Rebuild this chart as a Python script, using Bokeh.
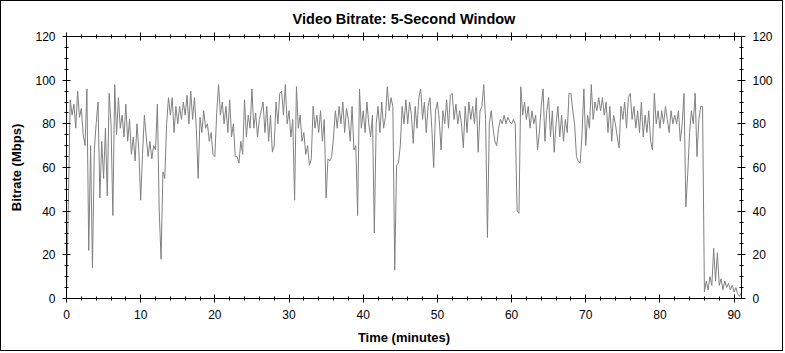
from bokeh.plotting import figure
from bokeh.models import Range1d, LinearAxis, FixedTicker
from bokeh.embed import file_html
from bokeh.resources import INLINE

title_text = "Video Bitrate: 5-Second Window"
x_label = "Time (minutes)"
y_label = "Bitrate (Mbps)"

sample_step_min = 0.25  # one reading every quarter minute

# bitrate readings (Mbps), four per minute, minute 0 .. 90, plus final point at 91
bitrate_mbps = [
    2, 43, 91, 84,    89, 78, 95, 83,    87, 75, 70, 96,    22, 70, 14, 68,
    80, 90, 46, 72,   55, 78, 47, 94,    80, 38, 98, 75,    92, 78, 84, 74,
    89, 72, 82, 66,   74, 63, 80, 68,    45, 66, 84, 74,    65, 72, 64, 70,
    68, 89, 40, 18,   58, 55, 80, 92,    84, 92, 76, 88,    80, 88, 82, 90,
    84, 93, 80, 95,   82, 92, 78, 55,    83, 76, 86, 78,    80, 72, 76, 66,
    65, 85, 98, 84,   90, 80, 88, 76,    91, 74, 80, 65,    65, 62, 72, 66,
    91, 74, 84, 78,   96, 78, 85, 74,    82, 86, 90, 76,    88, 72, 84, 67,
    70, 90, 80, 94,   95, 84, 98, 80,    86, 74, 82, 45,    97, 78, 84, 72,
    76, 66, 70, 61,   64, 88, 78, 84,    76, 86, 72, 82,    46, 64, 63, 65,
    74, 86, 78, 88,   80, 90, 76, 87,    82, 72, 88, 68,    70, 38, 96, 78,
    86, 76, 90, 80,   74, 84, 30, 80,    88, 76, 90, 78,    83, 97, 86, 92,
    88, 13, 61, 62,   70, 88, 80, 91,    80, 90, 84, 71,    88, 78, 92, 96,
    82, 90, 76, 88,   92, 78, 60, 86,    90, 82, 68, 86,    80, 91, 78, 93,
    94, 82, 89, 80,   86, 80, 69, 88,    76, 90, 82, 88,    80, 92, 67, 86,
    88, 98, 82, 28,   80, 86, 78, 72,    70, 78, 82, 80,    84, 80, 83, 81,
    80, 82, 80, 40,   39, 97, 84, 90,    82, 88, 78, 86,    80, 84, 68, 76,
    88, 96, 72, 86,   92, 74, 86, 67,    80, 88, 74, 84,    72, 82, 76, 94,
    94, 86, 80, 65,   63, 62, 75, 96,    70, 84, 78, 98,    82, 90, 86, 92,
    86, 92, 84, 90,   76, 88, 72, 84,    80, 74, 69, 88,    82, 90, 78, 92,
    94, 82, 88, 78,   86, 76, 90, 74,    84, 76, 86, 72,    68, 94, 80, 86,
    78, 86, 80, 88,   82, 76, 86, 80,    84, 80, 86, 72,    80, 94, 42, 57,
    76, 86, 80, 94,   65, 82, 88, 88,    3, 8, 4, 10,       6, 23, 8, 21,
    6, 9, 4, 8,       5, 7, 4, 6,        3, 5, 2, 1,        3,
]
time_min = [i * sample_step_min for i in range(len(bitrate_mbps))]

x_major_ticks = [0, 10, 20, 30, 40, 50, 60, 70, 80, 90]
x_minor_ticks = list(range(0, 92, 2))
y_major_ticks = [0, 20, 40, 60, 80, 100, 120]
y_minor_ticks = list(range(0, 121, 5))

FONT = "Liberation Sans"

p = figure(
    width=783, height=351,
    x_range=Range1d(0, 91), y_range=Range1d(0, 120),
    output_backend="svg", toolbar_location=None,
    min_border_left=65, min_border_right=43,
    min_border_top=35, min_border_bottom=54,
    background_fill_color="white", border_fill_color="white",
)
p.styles = {"border": "1px solid black"}
p.outline_line_color = "black"
p.xgrid.visible = False
p.ygrid.visible = False

p.line(time_min, bitrate_mbps, line_color="#808080", line_width=1)

p.add_layout(LinearAxis(), "right")
p.add_layout(LinearAxis(), "above")

xt = FixedTicker(ticks=x_major_ticks, minor_ticks=x_minor_ticks)
yt = FixedTicker(ticks=y_major_ticks, minor_ticks=y_minor_ticks)

for ax in p.xaxis:
    ax.ticker = xt
for ax in p.yaxis:
    ax.ticker = yt

for ax in p.xaxis + p.yaxis:
    ax.axis_line_color = "black"
    ax.major_tick_line_color = "black"
    ax.minor_tick_line_color = "black"
    ax.major_tick_in = 4
    ax.major_tick_out = 4
    ax.minor_tick_in = 2
    ax.minor_tick_out = 2
    ax.major_label_text_font = FONT
    ax.major_label_text_font_size = "12px"
    ax.major_label_text_color = "black"
    ax.major_label_standoff = 7
    ax.axis_label_text_font = FONT
    ax.axis_label_text_font_size = "13px"
    ax.axis_label_text_font_style = "bold"
    ax.axis_label_text_color = "black"

p.above[0].major_label_text_font_size = "0px"
p.above[0].major_label_text_alpha = 0

p.below[0].axis_label = x_label
p.below[0].axis_label_standoff = 8
p.left[0].axis_label = y_label
p.left[0].axis_label_standoff = 8

p.title.text = title_text
p.title.align = "center"
p.title.offset = -11
p.title.standoff = 12
p.title.text_font = FONT
p.title.text_font_size = "14.5px"
p.title.text_font_style = "bold"
p.title.text_color = "black"

open("out.html", "w").write(file_html(p, INLINE))
